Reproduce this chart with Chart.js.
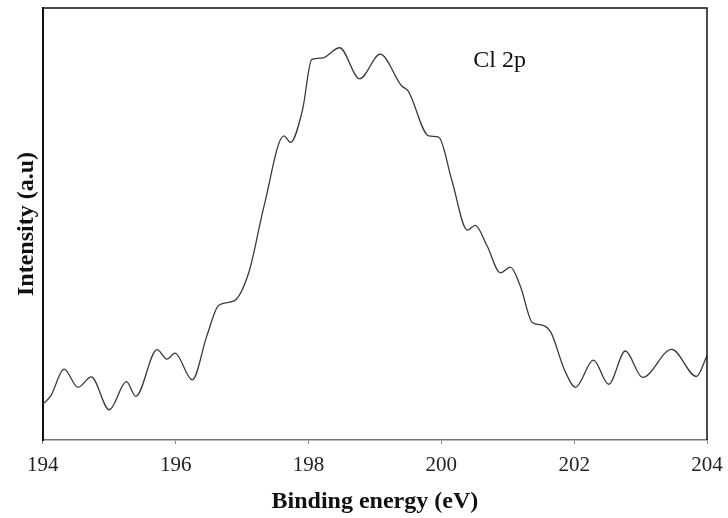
<!DOCTYPE html>
<html lang="en">
<head>
  <meta charset="UTF-8" />
  <title>Cl 2p XPS</title>
  <script src="https://cdn.jsdelivr.net/npm/chart.js"></script>
  <style>
    body { margin: 0; background: #fff; }
    .wrap { width: 728px; height: 518px; }
  </style>
</head>
<body>
  <div class="wrap"><canvas id="xps"></canvas></div>
  <script>
    // binding energy (eV) and intensity (a.u., 0-100)
    const energy = [
      194.00, 194.12, 194.32, 194.53, 194.73, 195.00, 195.26, 195.40, 195.72, 195.87,
      195.99, 196.25, 196.47, 196.65, 196.88, 197.10, 197.33, 197.63, 197.73, 197.91,
      198.05, 198.20, 198.47, 198.77, 199.08, 199.40, 199.50, 199.81, 199.96, 200.16,
      200.39, 200.51, 200.69, 200.89, 201.04, 201.19, 201.37, 201.52, 201.65, 201.85,
      202.02, 202.29, 202.52, 202.77, 203.03, 203.47, 203.84, 204.00
    ];
    const intensity = [
      8.3, 10.2, 16.4, 12.2, 14.6, 7.0, 13.5, 10.1, 20.9, 18.7,
      20.1, 13.9, 24.1, 31.2, 32.2, 38.7, 54.1, 70.4, 68.9, 76.4,
      88.1, 88.4, 90.8, 83.6, 89.3, 82.0, 80.8, 70.4, 70.1, 60.0,
      48.6, 49.7, 44.9, 38.7, 40.0, 35.6, 27.2, 26.6, 24.9, 16.4,
      12.2, 18.5, 12.9, 20.6, 14.5, 21.0, 14.7, 19.5
    ];
    const xTicks = [194, 196, 198, 200, 202, 204];
    const peakLabel = 'Cl 2p';

    const serif = "'Liberation Serif', 'Times New Roman', serif";

    // top/right frame lines and the peak label
    const frame = {
      id: 'frame',
      afterDraw(chart) {
        const { ctx, chartArea: a, scales } = chart;
        ctx.save();
        ctx.strokeStyle = '#111';
        ctx.lineWidth = 1.5;
        ctx.beginPath();
        ctx.moveTo(a.left, a.top);
        ctx.lineTo(a.right, a.top);
        ctx.lineTo(a.right, a.bottom);
        ctx.stroke();
        ctx.fillStyle = '#111';
        ctx.font = '24px ' + serif;
        ctx.textBaseline = 'alphabetic';
        ctx.fillText(peakLabel, scales.x.getPixelForValue(200.48), scales.y.getPixelForValue(86.4));
        ctx.restore();
      }
    };

    new Chart(document.getElementById('xps'), {
      type: 'line',
      data: {
        datasets: [{
          data: energy.map((e, i) => ({ x: e, y: intensity[i] })),
          borderColor: '#3a3a3a',
          borderWidth: 1.3,
          pointRadius: 0,
          cubicInterpolationMode: 'monotone',
          fill: false
        }]
      },
      options: {
        responsive: true,
        maintainAspectRatio: false,
        animation: false,
        layout: { padding: { left: 4, right: 21, top: 8, bottom: 0 } },
        plugins: { legend: { display: false }, tooltip: { enabled: false } },
        scales: {
          x: {
            type: 'linear',
            min: 194,
            max: 204,
            afterBuildTicks: s => { s.ticks = xTicks.map(v => ({ value: v })); },
            // last label fits inside the layout padding, so no extra room needed
            afterFit: s => { s.paddingRight = 0; s.paddingLeft = 0; },
            grid: { drawOnChartArea: false, drawTicks: true, tickLength: 4, color: '#888' },
            border: { display: true, color: '#777', width: 1.5 },
            ticks: { color: '#222', padding: 9, font: { family: serif, size: 21 } },
            title: {
              display: true,
              text: 'Binding energy (eV)',
              color: '#111',
              padding: { top: 0, bottom: 2 },
              font: { family: serif, size: 24, weight: 'bold' }
            }
          },
          y: {
            min: 0,
            max: 100,
            grid: { display: false, drawTicks: false },
            border: { display: true, color: '#111', width: 2 },
            ticks: { display: false },
            title: {
              display: true,
              text: 'Intensity (a.u)',
              color: '#111',
              padding: { top: 8, bottom: 2 },
              font: { family: serif, size: 24, weight: 'bold' }
            }
          }
        }
      },
      plugins: [frame]
    });
  </script>
</body>
</html>
